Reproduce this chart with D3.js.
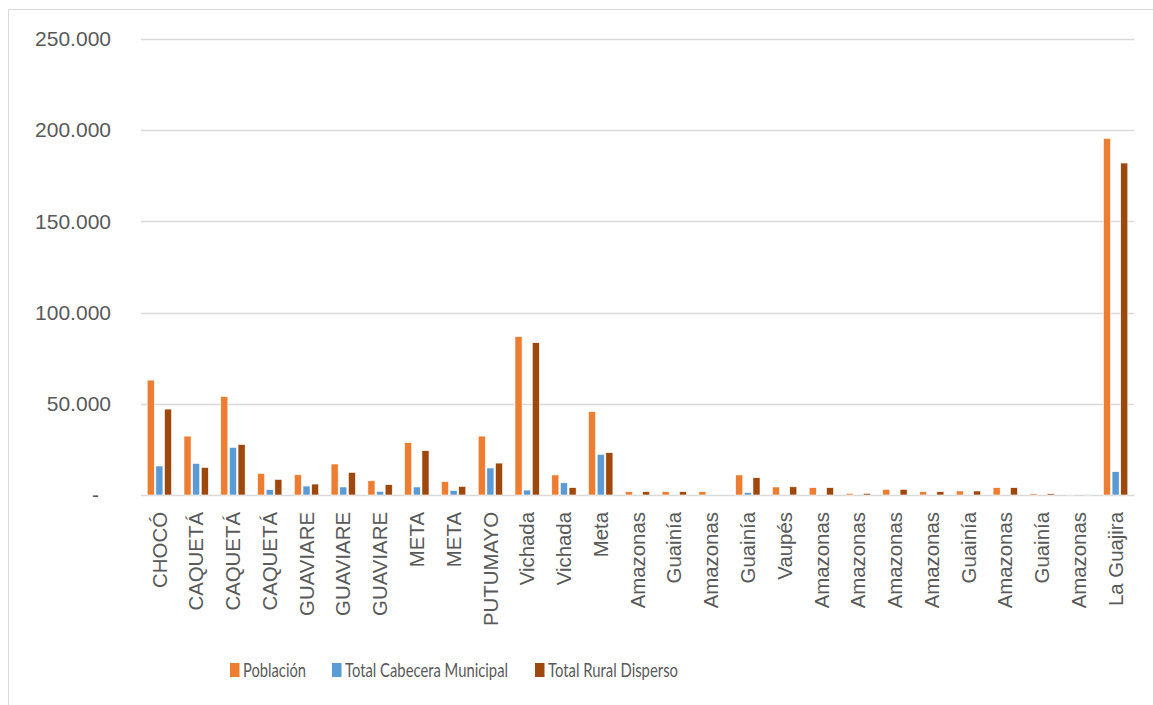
<!DOCTYPE html>
<html>
<head>
<meta charset="utf-8">
<script src="https://cdn.jsdelivr.net/npm/d3@7"></script>
<style>
  body { margin: 0; background: #fff; }
  svg { display: block; font-family: Lato, "Open Sans", sans-serif; }
</style>
</head>
<body>
<svg></svg>
<script>
const width = 1153;
const height = 705;
const margin = {top: 39, right: 19, left: 141, bottom: 210};
const innerWidth = width - margin.left - margin.right;
const innerHeight = height - margin.top - margin.bottom;

const categories = ['CHOCÓ', 'CAQUETÁ', 'CAQUETÁ', 'CAQUETÁ', 'GUAVIARE', 'GUAVIARE', 'GUAVIARE',
  'META', 'META', 'PUTUMAYO', 'Vichada', 'Vichada', 'Meta', 'Amazonas', 'Guainía', 'Amazonas',
  'Guainía', 'Vaupés', 'Amazonas', 'Amazonas', 'Amazonas', 'Amazonas', 'Guainía', 'Amazonas',
  'Guainía', 'Amazonas', 'La Guajira'];
// series names and values
const seriesNames = ['Población', 'Total Cabecera Municipal', 'Total Rural Disperso'];
const poblacion = [63000, 32300, 54000, 11800, 11100, 17000, 7800, 28700, 7300, 32300, 86800, 11000,
  45700, 1800, 1800, 1800, 11000, 4400, 4000, 900, 3100, 1800, 2200, 4000, 700, 400, 195500];
const cabecera = [15900, 17300, 26100, 2900, 4900, 4400, 2000, 4400, 2400, 14800, 2700, 6700,
  22300, 0, 0, 0, 1300, 0, 0, 0, 0, 0, 0, 0, 0, 0, 12800];
const rural = [47100, 15100, 27700, 8550, 6000, 12400, 5650, 24300, 4700, 17500, 83500, 4000,
  23200, 1800, 1800, 0, 9500, 4500, 4000, 900, 3100, 1800, 2200, 4000, 700, 400, 182000];
const yTicks = [0, 50000, 100000, 150000, 200000, 250000];
const colors = ['#ED7D31', '#5B9BD5', '#9E480E'];

const rows = categories.map((c, i) => ({
  key: i, name: c, values: [poblacion[i], cabecera[i], rural[i]]
}));

const svg = d3.select('svg')
  .attr('width', width)
  .attr('height', height);

// chart area frame (left and top edges show)
svg.append('path')
  .attr('d', `M8.5,${height} V9.5 H${width}`)
  .attr('fill', 'none')
  .attr('stroke', '#d9d9d9');

const xScale = d3.scaleBand()
  .domain(rows.map(d => d.key))
  .range([0, innerWidth]);

const xInner = d3.scaleBand()
  .domain([0, 1, 2])
  .range([6.2, xScale.bandwidth() - 6.2])
  .paddingInner(0.18);

const yScale = d3.scaleLinear()
  .domain([0, 250000])
  .range([innerHeight, 0]);

const g = svg.append('g')
  .attr('transform', `translate(${margin.left}, ${margin.top})`);

// gridlines
g.append('g')
  .selectAll('line').data(yTicks)
  .enter().append('line')
    .attr('x1', 0)
    .attr('x2', innerWidth)
    .attr('y1', d => Math.round(yScale(d)) + 0.5)
    .attr('y2', d => Math.round(yScale(d)) + 0.5)
    .attr('stroke', '#d9d9d9')
    .attr('stroke-width', 1.3);

// y axis labels
const fmt = d => d === 0 ? '-' : d3.format(',')(d).replace(/,/g, '.');
const yAxis = g.append('g')
  .call(d3.axisLeft(yScale).tickValues(yTicks).tickFormat(fmt).tickSize(0).tickPadding(30));
yAxis.select('.domain').remove();
yAxis.selectAll('text')
  .attr('fill', '#595959')
  .style('font-size', '21px');
yAxis.selectAll('.tick')
  .filter(d => d === 0)
  .select('text')
  .attr('dx', -12);

// bars
const groups = g.selectAll('.grp').data(rows)
  .enter().append('g')
    .attr('class', 'grp')
    .attr('transform', d => `translate(${xScale(d.key)}, 0)`);

groups.selectAll('rect').data(d => d.values)
  .enter().append('rect')
    .attr('x', (d, i) => xInner(i))
    .attr('y', d => yScale(d))
    .attr('width', xInner.bandwidth())
    .attr('height', d => innerHeight - yScale(d))
    .attr('fill', (d, i) => colors[i])
    .attr('stroke', '#fff')
    .attr('stroke-width', 0.6);

// category labels
const xAxis = g.append('g')
  .attr('transform', `translate(0, ${innerHeight})`)
  .call(d3.axisBottom(xScale).tickFormat(k => categories[k]).tickSize(0));
xAxis.select('.domain').remove();
xAxis.selectAll('text')
  .attr('fill', '#595959')
  .style('font-size', '20.4px')
  .attr('text-anchor', 'end')
  .attr('transform', 'rotate(-90)')
  .attr('x', -17)
  .attr('y', 0)
  .attr('dy', '0.35em');

// legend (text in the reference is narrow, so fit each to its width)
const legendX = [230, 332, 535];
const legendW = [63, 163, 130];
const legend = svg.append('g')
  .attr('transform', 'translate(0, 670)');
const items = legend.selectAll('g').data(seriesNames)
  .enter().append('g')
    .attr('transform', (d, i) => `translate(${legendX[i]}, 0)`);
items.append('rect')
  .attr('x', 0)
  .attr('y', -7)
  .attr('width', 9.5)
  .attr('height', 14)
  .attr('fill', (d, i) => colors[i]);
items.append('text')
  .attr('x', 13)
  .attr('dy', '0.36em')
  .attr('fill', '#595959')
  .style('font-size', '20px')
  .attr('textLength', (d, i) => legendW[i])
  .attr('lengthAdjust', 'spacingAndGlyphs')
  .text(d => d);
</script>
</body>
</html>
